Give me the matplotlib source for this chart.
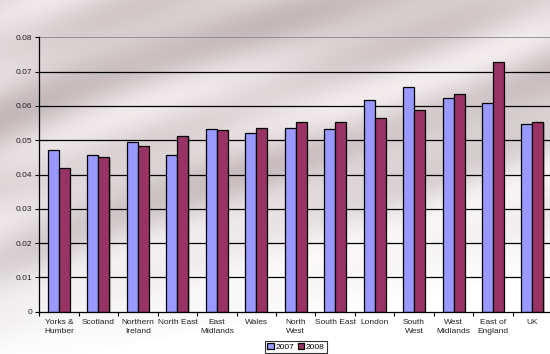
import numpy as np
import matplotlib
matplotlib.use("Agg")
import matplotlib.pyplot as plt

plt.rcParams['font.family'] = ['Liberation Sans', 'DejaVu Sans']

regions = ["Yorks &\nHumber", "Scotland", "Northern\nIreland", "North East",
           "East\nMidlands", "Wales", "North\nWest", "South East", "London",
           "South\nWest", "West\nMidlands", "East of\nEngland", "UK"]
rate_2007 = [0.0471, 0.0458, 0.0495, 0.0457, 0.0532, 0.0520, 0.0535,
             0.0533, 0.0617, 0.0654, 0.0622, 0.0608, 0.0546]
rate_2008 = [0.0420, 0.0451, 0.0484, 0.0513, 0.0529, 0.0535, 0.0552,
             0.0554, 0.0564, 0.0588, 0.0636, 0.0727, 0.0554]
yticks = [0, 0.01, 0.02, 0.03, 0.04, 0.05, 0.06, 0.07, 0.08]
ytick_labels = ["0", "0.01", "0.02", "0.03", "0.04", "0.05", "0.06", "0.07", "0.08"]

W, H = 550, 354
fig = plt.figure(figsize=(W / 100, H / 100), dpi=100)

# brushed-metal style backdrop: diagonal streaks fading to white toward the bottom
yy, xx = np.mgrid[0:H, 0:W].astype(float)
u = (xx * 0.35 + yy) / H
streak = (0.5 + 0.5 * np.sin(u * 14.0 + 1.2 * np.sin(xx / 90.0))) * 0.6 \
    + 0.4 * (0.5 + 0.5 * np.sin(u * 31.0 + 0.7))
fade = np.clip((yy / H - 0.45) * 2.2 + (xx / W - 0.5) * 0.6, 0, 1)
fade = np.maximum(fade, np.clip((yy / H - 0.78) * 4.0, 0, 1))
dark = np.array([196, 184, 186]) / 255.0
light = np.array([242, 236, 237]) / 255.0
base = dark[None, None, :] + (light - dark)[None, None, :] * streak[..., None]
img = base * (1 - fade[..., None]) + fade[..., None] * 1.0
bg = fig.add_axes([0, 0, 1, 1])
bg.imshow(img, aspect='auto', extent=[0, W, H, 0], zorder=0)
bg.set_axis_off()

left, right = 39.3, 552.2
bottom, top = 311.7, 37.3
ax = fig.add_axes([left / W, 1 - bottom / H, (right - left) / W, (bottom - top) / H])
ax.patch.set_alpha(0)

n = len(regions)
x = np.arange(n)
bw = 0.279
shadow = dict(color='#555555', alpha=0.35, linewidth=0, zorder=2)
ax.bar(x - bw / 2 + 0.03, rate_2007, bw, bottom=-0.0004, **shadow)
ax.bar(x + bw / 2 + 0.03, rate_2008, bw, bottom=-0.0004, **shadow)
ax.bar(x - bw / 2, rate_2007, bw, color='#9999FF', edgecolor='black',
       linewidth=0.9, zorder=3, label='2007')
ax.bar(x + bw / 2, rate_2008, bw, color='#993366', edgecolor='black',
       linewidth=0.9, zorder=3, label='2008')

ax.set_xlim(-0.5, n - 0.5)
ax.set_ylim(0, 0.08)
ax.set_yticks(yticks)
ax.set_yticklabels(ytick_labels)
for v in yticks[1:-1]:
    ax.axhline(v, color='black', linewidth=0.9, zorder=1)
ax.axhline(0.08, color='#888888', linewidth=1.2, zorder=1)

ax.set_xticks(x)
ax.set_xticklabels(regions, fontsize=6, color='#222222', linespacing=1.45)
ax.tick_params(axis='x', length=0, pad=5)
ax.set_xticks(np.arange(n + 1) - 0.5, minor=True)
ax.tick_params(axis='x', which='minor', length=3, width=0.8, direction='out')
ax.tick_params(axis='y', length=3, width=0.8, direction='out', labelsize=6,
               labelcolor='#222222', pad=2)

for s in ['top', 'right']:
    ax.spines[s].set_visible(False)
ax.spines['left'].set_linewidth(0.9)
ax.spines['bottom'].set_linewidth(0.9)
ax.spines['bottom'].set_zorder(4)

leg = fig.legend(loc='center', bbox_to_anchor=(296 / W, 1 - 347 / H), ncol=2,
                 fontsize=6, frameon=True, fancybox=False, edgecolor='black',
                 handlelength=0.8, handleheight=0.8, handletextpad=0.2,
                 columnspacing=0.4, borderpad=0.25, borderaxespad=0)
leg.get_frame().set_linewidth(0.8)
leg.get_frame().set_facecolor('white')

fig.savefig('out.png', dpi=100)
